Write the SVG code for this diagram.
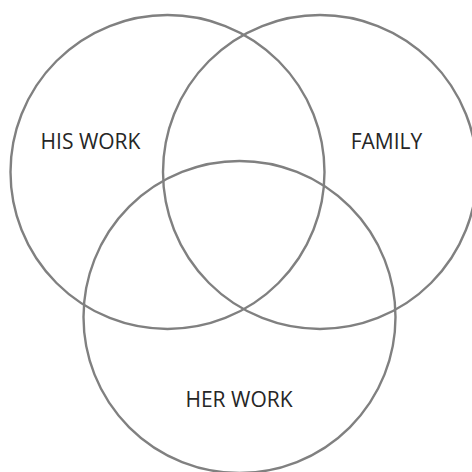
<svg xmlns="http://www.w3.org/2000/svg" width="472" height="472" viewBox="0 0 472 472">
<style>
.c{fill:none;stroke:#808080;stroke-width:2.4}
.t{font-family:"Open Sans","Liberation Sans",sans-serif;font-size:21px;fill:#262626;text-anchor:middle}
</style>
<rect width="472" height="472" fill="#fff"/>
<g id="his-work"><circle class="c" cx="167.5" cy="172" r="157"/><text class="t" x="90.5" y="149">HIS WORK</text></g>
<g id="family"><circle class="c" cx="320" cy="172" r="157"/><text class="t" x="386.5" y="149">FAMILY</text></g>
<g id="her-work"><circle class="c" cx="239.5" cy="317" r="156"/><text class="t" x="239" y="407">HER WORK</text></g>
<g id="connectors"/>
</svg>
